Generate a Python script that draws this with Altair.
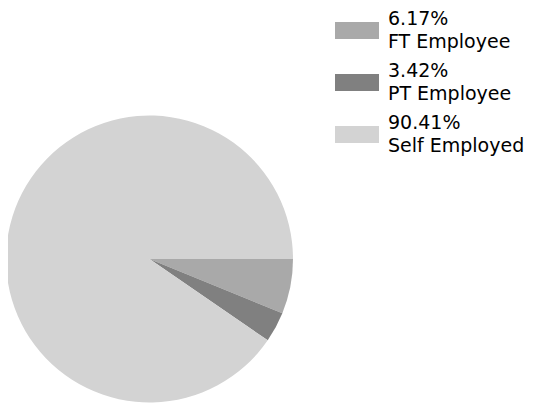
import math
import altair as alt
import pandas as pd

categories = ["FT Employee", "PT Employee", "Self Employed"]
shares = [6.17, 3.42, 90.41]
colors = ["#a9a9a9", "#808080", "#d3d3d3"]

df = pd.DataFrame({"cat": categories, "share": shares, "ord": [0, 1, 2]})
df["pct"] = [f"{v:.2f}%" for v in shares]

color = alt.Color("cat:N", scale=alt.Scale(domain=categories, range=colors), legend=None)

pie = alt.Chart(df).mark_arc(radius=143.5, stroke=None).encode(
    theta=alt.Theta("share:Q", stack=True,
                    scale=alt.Scale(range=[math.pi / 2, math.pi / 2 + 2 * math.pi])),
    order=alt.Order("ord:Q"),
    color=color,
    x=alt.value(141.5),
    y=alt.value(251),
)

ly = alt.Y("cat:N", scale=alt.Scale(domain=categories, type="point", range=[22.5, 126.5],
                                    padding=0), axis=None)

swatch = alt.Chart(df).mark_point(
    shape="M-1,-0.386H1V0.386H-1Z", size=1936, filled=True, opacity=1, strokeWidth=0
).encode(x=alt.value(349), y=ly, color=color)

font = "DejaVu Sans"
fs = 19
line1 = alt.Chart(df).mark_text(align="left", baseline="alphabetic", dy=-5.5,
                                font=font, fontSize=fs, color="black").encode(
    x=alt.value(380), y=ly, text="pct:N")
line2 = alt.Chart(df).mark_text(align="left", baseline="alphabetic", dy=17.5,
                                font=font, fontSize=fs, color="black").encode(
    x=alt.value(380), y=ly, text="cat:N")

chart = alt.layer(pie, swatch, line1, line2).properties(
    width=518, height=395, padding=0, autosize="none"
).configure_view(stroke=None)

chart.save("out.html", embed_options={"renderer": "svg", "actions": False})
